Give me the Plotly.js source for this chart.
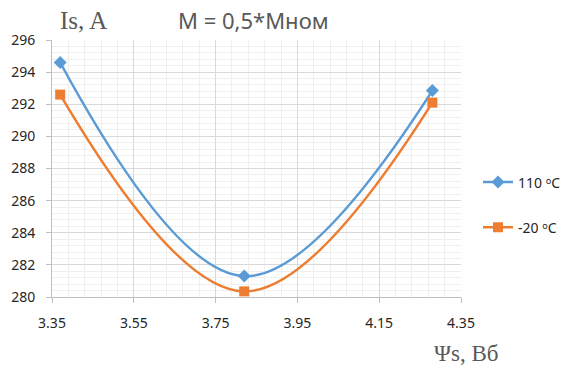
<!DOCTYPE html>
<html>
<head>
<meta charset="utf-8">
<script src="https://cdn.plot.ly/plotly-3.0.1.min.js"></script>
<style>html,body{margin:0;padding:0;background:#fff;}#chart{width:568px;height:369px;}</style>
</head>
<body>
<div id="chart"></div>
<script>
// Data
var psiValues = [3.37, 3.82, 4.28];          // Ψs, Вб
var current110 = [294.6, 281.3, 292.85];      // Is, A at 110 °C
var currentMinus20 = [292.6, 280.35, 292.1];  // Is, A at -20 °C
var seriesNames = ["110 ᵒC", "-20 ᵒC"];
var xTickVals = [3.35, 3.55, 3.75, 3.95, 4.15, 4.35];
var xTickText = ["3.35", "3.55", "3.75", "3.95", "4.15", "4.35"];
var yTickVals = [280, 282, 284, 286, 288, 290, 292, 294, 296];

var traces = [
  {
    x: psiValues, y: current110, name: seriesNames[0], legendgroup: "a",
    type: "scatter", mode: "lines+markers",
    line: {color: "#5b9bd5", width: 2.5, shape: "spline", smoothing: 1.1},
    marker: {symbol: "diamond", size: 10, color: "#5b9bd5"}
  },
  {
    x: psiValues, y: currentMinus20, name: seriesNames[1], legendgroup: "b",
    type: "scatter", mode: "lines+markers",
    line: {color: "#ed7d31", width: 2.5, shape: "spline", smoothing: 1.1},
    marker: {symbol: "square", size: 10, color: "#ed7d31"}
  }
];

var tickFont = {family: "Noto Sans, Open Sans, sans-serif", size: 14, color: "#262626"};

var layout = {
  width: 568, height: 369,
  paper_bgcolor: "#ffffff", plot_bgcolor: "#ffffff",
  margin: {l: 52, r: 107, t: 40, b: 72, pad: 0, autoexpand: false},
  title: {
    text: "M = 0,5*Mном",
    font: {family: "Noto Sans, Open Sans, sans-serif", size: 22, color: "#595959"},
    x: 178 / 568, xanchor: "left", xref: "container",
    y: 1 - 21 / 369, yanchor: "middle", yref: "container"
  },
  showlegend: true,
  legend: {
    xref: "container", yref: "container",
    x: 478 / 568, xanchor: "left", y: 1 - 205 / 369, yanchor: "middle",
    font: {family: "Noto Sans, Open Sans, sans-serif", size: 14, color: "#262626"},
    traceorder: "grouped", tracegroupgap: 24, itemwidth: 30,
    bgcolor: "rgba(0,0,0,0)"
  },
  xaxis: {
    range: [3.35, 4.35], tickmode: "array", tickvals: xTickVals, ticktext: xTickText,
    automargin: false,
    showgrid: true, gridcolor: "#d9d9d9", gridwidth: 1,
    showline: true, linecolor: "#bfbfbf", linewidth: 1,
    ticks: "outside", ticklen: 5, tickcolor: "#bfbfbf",
    ticklabelstandoff: 8,
    zeroline: false, tickfont: tickFont,
    minor: {tick0: 3.35, dtick: 0.04, showgrid: true, gridcolor: "#efefef", gridwidth: 1, ticks: ""}
  },
  yaxis: {
    range: [280, 296], tickmode: "array", tickvals: yTickVals,
    automargin: false,
    showgrid: true, gridcolor: "#d9d9d9", gridwidth: 1,
    showline: true, linecolor: "#bfbfbf", linewidth: 1,
    ticks: "outside", ticklen: 5, tickcolor: "#bfbfbf",
    ticklabelstandoff: 8,
    zeroline: false, tickfont: tickFont,
    minor: {tick0: 280, dtick: 0.4, showgrid: true, gridcolor: "#efefef", gridwidth: 1, ticks: ""}
  },
  annotations: [
    {
      text: "Is, A", xref: "paper", yref: "paper",
      x: (58 - 52) / 409, xanchor: "left", y: 1 + (40 - 20) / 257, yanchor: "middle",
      showarrow: false,
      font: {family: "Liberation Serif, DejaVu Serif, serif", size: 25, color: "#595959"}
    },
    {
      text: "Ψs, Вб", xref: "paper", yref: "paper",
      x: (432 - 52) / 409, xanchor: "left", y: (297 - 353) / 257, yanchor: "middle",
      showarrow: false,
      font: {family: "Liberation Serif, DejaVu Serif, serif", size: 23, color: "#595959"}
    }
  ]
};

Plotly.newPlot("chart", traces, layout, {displayModeBar: false, staticPlot: true});
</script>
</body>
</html>
